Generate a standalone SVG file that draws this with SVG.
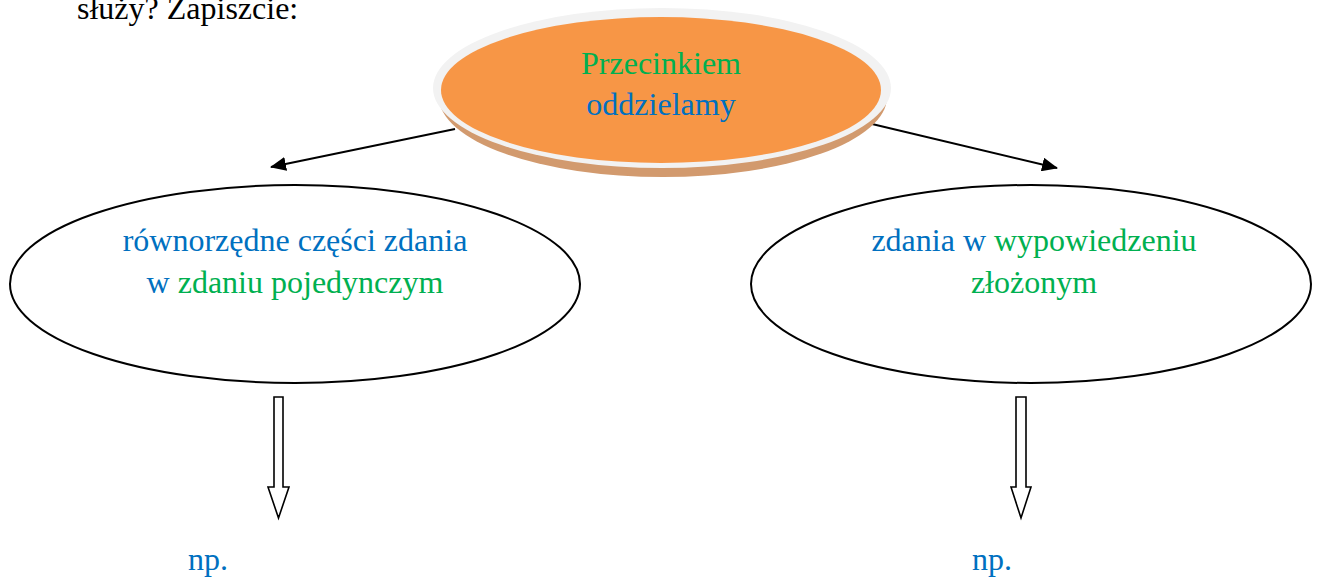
<svg xmlns="http://www.w3.org/2000/svg" width="1318" height="579" viewBox="0 0 1318 579">
<defs>
<style>
.t{font-family:"Liberation Serif","Times New Roman",serif;font-size:32px;}
.b{fill:#0070c0;}
.g{fill:#00b050;}
.el{fill:#fff;stroke:#000;stroke-width:2;}
.blk{fill:#fff;stroke:#000;stroke-width:1.6;}
.ln{stroke:#000;stroke-width:2;fill:none;}
</style>
<marker id="ah2" markerWidth="16" markerHeight="14" refX="15" refY="7" orient="auto" markerUnits="userSpaceOnUse">
<path d="M0,0 L16,7 L0,14 z" fill="#000"/>
</marker>
</defs>
<rect width="1318" height="579" fill="#fff"/>
<text class="t" x="77" y="19" fill="#000">służy? Zapiszcie:</text>
<g id="connectors">
<line class="ln" x1="455" y1="129" x2="271" y2="167" marker-end="url(#ah2)"/>
<line class="ln" x1="872" y1="124" x2="1057" y2="168" marker-end="url(#ah2)"/>
</g>
<g id="top">
<ellipse cx="663" cy="97" rx="224" ry="80" fill="#d29a6e"/>
<ellipse cx="662" cy="88" rx="229" ry="80" fill="#f2f2f2"/>
<ellipse cx="661" cy="90" rx="220" ry="73" fill="#f79646"/>
<text class="t g" x="661" y="74" text-anchor="middle">Przecinkiem</text>
<text class="t b" x="661" y="115" text-anchor="middle">oddzielamy</text>
</g>
<g id="left">
<ellipse class="el" cx="295" cy="284" rx="285" ry="99"/>
<text class="t b" x="295" y="251" text-anchor="middle">równorzędne części zdania</text>
<text class="t" x="295" y="293" text-anchor="middle"><tspan class="b">w </tspan><tspan class="g">zdaniu pojedynczym</tspan></text>
</g>
<g id="right">
<ellipse class="el" cx="1031" cy="284" rx="280" ry="99"/>
<text class="t" x="1034" y="251" text-anchor="middle"><tspan class="b">zdania w </tspan><tspan class="g">wypowiedzeniu</tspan></text>
<text class="t g" x="1034" y="293" text-anchor="middle">złożonym</text>
</g>
<g id="arrowL">
<path class="blk" d="M274,397 H283 V487 H289 L278.5,518 L268,487 H274 Z"/>
</g>
<g id="arrowR">
<path class="blk" d="M1016,397 H1026 V487 H1031 L1021,518 L1011,487 H1016 Z"/>
</g>
<g id="npL"><text class="t b" x="188" y="570">np.</text></g>
<g id="npR"><text class="t b" x="972" y="570">np.</text></g>
</svg>
